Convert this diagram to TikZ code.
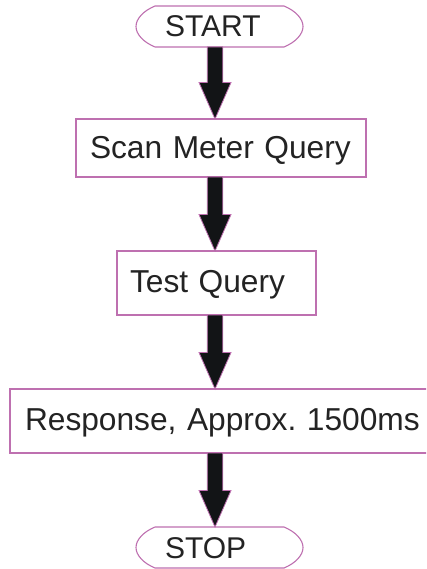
\documentclass[tikz,border=0pt]{standalone}
\usepackage{fontspec}
\setmainfont{Liberation Sans}
\usetikzlibrary{calc}

\definecolor{edgepink}{RGB}{190,112,176}
\definecolor{inkdark}{RGB}{35,35,35}
\definecolor{arrowfill}{RGB}{18,20,22}

\tikzset{
  procbox/.style={draw=edgepink, line width=1.1pt, fill=white, rectangle,
    outer sep=0pt, align=left, text=inkdark,
    font=\frenchspacing\fontsize{31.7pt}{38pt}\selectfont,
    text height=22pt, text depth=4pt},
  terminal/.style={rectangle, outer sep=0pt, minimum width=129pt,
    minimum height=41pt, text width=109pt, inner xsep=10pt, align=left,
    text=inkdark, font=\fontsize{30pt}{36pt}\selectfont,
    text height=21pt, text depth=0pt},
  termline/.style={draw=edgepink, line width=1.1pt},
  arrowbody/.style={fill=arrowfill, draw=edgepink, line width=0.8pt, line join=miter}
}

% rounded-end outline drawn around a terminal node
\newcommand\terminaloutline[1]{%
  \draw[termline] (#1.north west) -- (#1.north east)
    .. controls ($(#1.north east)+(12,5)$) and ($(#1.east)+(19,-7.5)$) .. ($(#1.east)+(19,0)$)
    .. controls ($(#1.east)+(19,7.5)$) and ($(#1.south east)+(12,-5)$) .. (#1.south east)
    -- (#1.south west)
    .. controls ($(#1.south west)+(-12,-5)$) and ($(#1.west)+(-19,7.5)$) .. ($(#1.west)+(-19,0)$)
    .. controls ($(#1.west)+(-19,-7.5)$) and ($(#1.north west)+(-12,5)$) .. (#1.north west)
    -- cycle;}

% block arrow from a top point down to a tip point
\newcommand\blockarrow[2]{%
  \path[arrowbody] let \p1=(#1), \p2=(#2) in
    (\x1-7.75pt,\y1) -- (\x1+7.75pt,\y1) -- (\x1+7.75pt,\y2+36.5pt)
    -- (\x1+16pt,\y2+36.5pt) -- (\x1,\y2) -- (\x1-16pt,\y2+36.5pt)
    -- (\x1-7.75pt,\y2+36.5pt) -- cycle;}

\begin{document}
\begin{tikzpicture}[x=1pt, y=-1pt]
  \clip (0,0) rectangle (426,569);
  \fill[white] (0,0) rectangle (426,569);

  \coordinate (ax) at (215,0);

  \node[terminal] (start) at (219.5,26.5) {START};
  \terminaloutline{start}

  \node[procbox, minimum width=290pt, minimum height=58pt, text width=262pt,
        inner xsep=14pt, text depth=0pt] (box1) at (221,148) {Scan Meter Query};

  \node[procbox, minimum width=199pt, minimum height=64pt, text width=173pt,
        inner xsep=13pt] (box2) at (216.5,283) {Test Query};

  \node[procbox, minimum width=440pt, minimum height=64pt, text width=410pt,
        inner xsep=15pt] (box3) at (230,421) {Response, Approx. 1500ms};

  \node[terminal] (stop) at (219.5,547.5) {STOP};
  \terminaloutline{stop}

  \blockarrow{start.south -| ax}{box1.north -| ax}
  \blockarrow{box1.south -| ax}{box2.north -| ax}
  \blockarrow{box2.south -| ax}{box3.north -| ax}
  \blockarrow{box3.south -| ax}{stop.north -| ax}
\end{tikzpicture}
\end{document}
